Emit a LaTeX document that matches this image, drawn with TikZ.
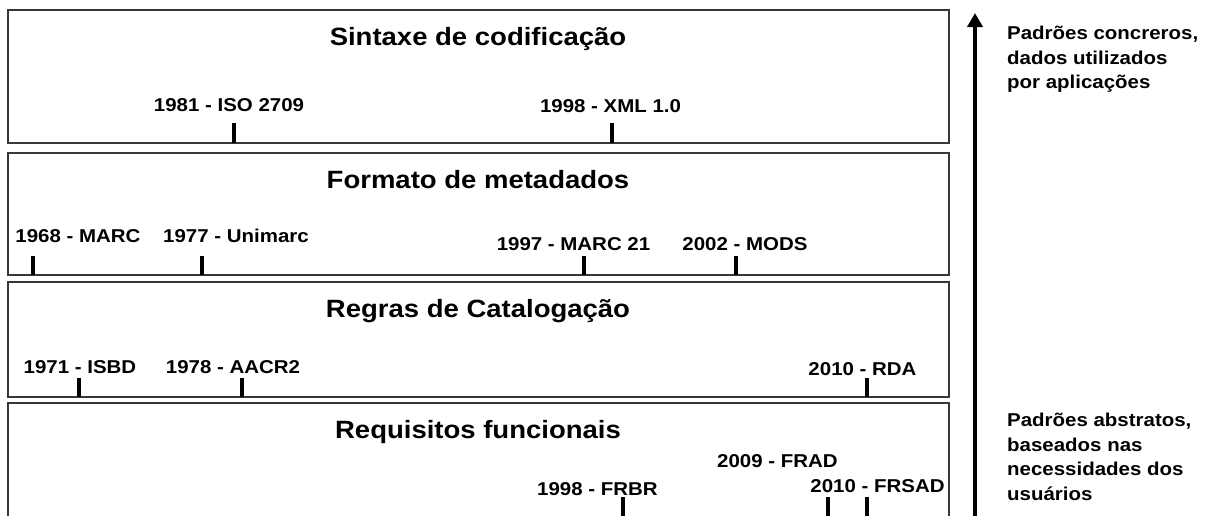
\documentclass[tikz,border=0pt]{standalone}
\usepackage{fontspec}
\setmainfont{Liberation Sans}[FakeStretch=1.1]
\usetikzlibrary{arrows.meta}
\begin{document}
\begin{tikzpicture}[x=1pt,y=-1pt,
  layerbox/.style={draw=black!78,line width=2pt,minimum width=941pt,inner sep=0pt},
  boxtitle/.style={anchor=base,inner sep=0pt,font=\fontsize{25}{30}\selectfont\bfseries},
  yearlab/.style={anchor=base,inner sep=0pt,font=\fontsize{18.6}{22}\selectfont\bfseries},
  tick/.style={line width=4pt,black},
  sidetext/.style={anchor=north west,inner sep=0pt,align=left,font=\fontsize{18.6}{24.5}\selectfont\bfseries},
  axis/.style={line width=3.5pt,-{Triangle[width=15pt,length=14pt]}}]
\useasboundingbox (0,0) rectangle (1207,515);
\clip (0,0) rectangle (1207,515);
\fill[white] (0,0) rectangle (1207,515);
% boxes
\node[layerbox,minimum height=133pt] (b1) at (478.5,76.5) {};
\node[layerbox,minimum height=122pt] (b2) at (478.5,214) {};
\node[layerbox,minimum height=115pt] (b3) at (478.5,339.5) {};
\node[layerbox,minimum height=127pt] (b4) at (478.5,466.5) {};
% titles
\node[boxtitle] (t1) at (478,45) {Sintaxe de codificação};
\node[boxtitle] (t2) at (478,188) {Formato de metadados};
\node[boxtitle] (t3) at (478,317) {Regras de Catalogação};
\node[boxtitle] (t4) at (478,438) {Requisitos funcionais};
% box 1
\node[yearlab] (iso) at (229,111.7) {1981 - ISO 2709};
\node[yearlab] (xml) at (610.5,112) {1998 - XML 1.0};
\draw[tick] (234,123) -- (234,143);
\draw[tick] (611.7,123) -- (611.7,143);
% box 2
\node[yearlab] (marc) at (78,242) {1968 - MARC};
\node[yearlab] (unimarc) at (236,242) {1977 - Unimarc};
\node[yearlab] (marc21) at (573.5,250) {1997 - MARC 21};
\node[yearlab] (mods) at (745,250) {2002 - MODS};
\draw[tick] (33,256) -- (33,275);
\draw[tick] (202,256) -- (202,275);
\draw[tick] (584,256) -- (584,275);
\draw[tick] (736,256) -- (736,275);
% box 3
\node[yearlab] (isbd) at (80,373) {1971 - ISBD};
\node[yearlab] (aacr) at (233,373) {1978 - AACR2};
\node[yearlab] (rda) at (862.5,375) {2010 - RDA};
\draw[tick] (79,378) -- (79,397);
\draw[tick] (242,378) -- (242,397);
\draw[tick] (867,378) -- (867,397);
% box 4
\node[yearlab] (frbr) at (597.5,495) {1998 - FRBR};
\node[yearlab] (frad) at (777.5,467) {2009 - FRAD};
\node[yearlab] (frsad) at (877.5,492) {2010 - FRSAD};
\draw[tick] (623,497) -- (623,520);
\draw[tick] (828,497) -- (828,520);
\draw[tick] (867,497) -- (867,520);
% axis
\coordinate (abot) at (975,520);
\coordinate (atop) at (975,13);
\draw[axis] (abot) -- (atop);
\node[sidetext] (top) at (1007,26) {Padrões concreros,\\dados utilizados\\por aplicações};
\node[sidetext] (bot) at (1007,413) {Padrões abstratos,\\baseados nas\\necessidades dos\\usuários};
\end{tikzpicture}
\end{document}
